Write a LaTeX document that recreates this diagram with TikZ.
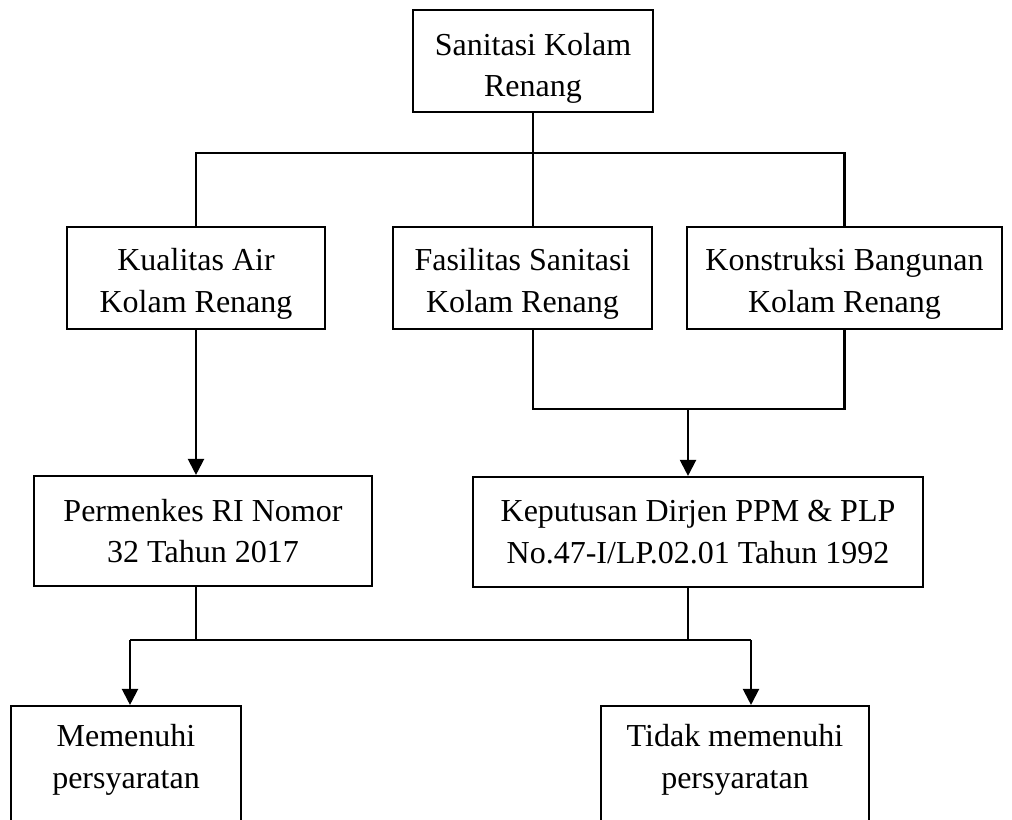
\documentclass[tikz,border=0pt]{standalone}
\usepackage{fontspec}
\setmainfont{Liberation Serif}
\usetikzlibrary{arrows.meta}
\tikzset{
  flowbox/.style={draw, line width=0.8pt, align=center, inner sep=0pt,
    font=\fontsize{12pt}{15.5pt}\selectfont},
  flowline/.style={line width=0.8pt},
  flowarrow/.style={line width=0.8pt, -{Triangle[length=6pt, width=6pt]}},
}
\newcommand{\FlowBox}[6]{
  \node [flowbox, minimum width=#4*0.375pt, minimum height=#5*0.375pt] (#1) at (#2, #3) {#6};
}
\newcommand{\FlowArrow}[2]{
  \draw [flowarrow] (#1) -- (#2);
}
% taller first line pushes the text a little down in its box
\newcommand{\TopGap}[1]{\rule{0pt}{#1}}
\begin{document}
\begin{tikzpicture}[x=0.375pt, y=-0.375pt]
        \useasboundingbox (0,0) rectangle (1012,819);
        \clip (0,0) rectangle (1012,819);

        % top
        \FlowBox{top}{533}{61}{240}{102}{\TopGap{14pt}Sanitasi Kolam\\Renang}

        % second row
        \FlowBox{kual}{196}{278}{258}{102}{\TopGap{12.8pt}Kualitas Air\\Kolam Renang}
        \FlowBox{fas}{522.5}{278}{259}{102}{\TopGap{12.8pt}Fasilitas Sanitasi\\Kolam Renang}
        \FlowBox{konst}{844.5}{278}{315}{102}{\TopGap{12.8pt}Konstruksi Bangunan\\Kolam Renang}

        % regulations
        \FlowBox{perm}{203}{531}{338}{110}{Permenkes RI Nomor\\32 Tahun 2017}
        \FlowBox{kep}{698}{532}{450}{110}{Keputusan Dirjen PPM \& PLP\\No.47-I/LP.02.01 Tahun 1992}

        % results (cut off at the bottom)
        \FlowBox{mem}{126}{771}{230}{130}{\TopGap{12.8pt}Memenuhi\\persyaratan\\~}
        \FlowBox{tidak}{735}{771}{268}{130}{\TopGap{12.8pt}Tidak memenuhi\\persyaratan\\~}

        \coordinate (bus) at (533,153);
        \coordinate (merge) at (688,409);
        \coordinate (yes) at (130,640);
        \coordinate (no) at (751,640);

        % top to second row
        \draw [flowline] (top.south) -- (bus);
        \draw [flowline] (kual.north) |- (bus) -| (konst.north);
        \draw [flowline] (bus) -- (bus |- fas.north);

        % second row to regulations
        \FlowArrow{kual.south}{kual.south |- perm.north}
        \draw [flowline] (bus |- fas.south) |- (merge) -| (konst.south);
        \FlowArrow{merge}{merge |- kep.north}

        % regulations to results
        \draw [flowline] (kual.south |- perm.south) -- (kual.south |- yes);
        \draw [flowline] (merge |- kep.south) -- (merge |- no);
        \draw [flowline] (yes) -- (no);
        \FlowArrow{yes}{yes |- mem.north}
        \FlowArrow{no}{no |- tidak.north}

\end{tikzpicture}
\end{document}
